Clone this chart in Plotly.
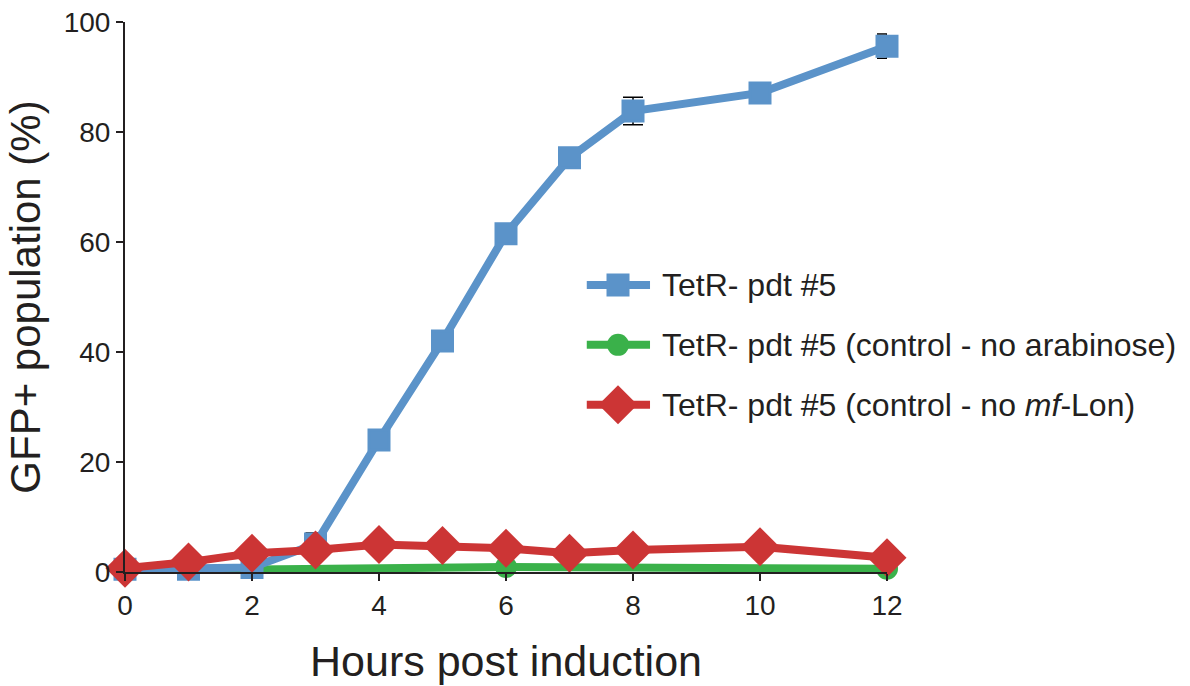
import plotly.graph_objects as go

hours = [0, 1, 2, 3, 4, 5, 6, 7, 8, 10, 12]
blue_vals = [0.5, 0.5, 0.8, 5.1, 24.0, 42.0, 61.5, 75.3, 83.8, 87.1, 95.6]
blue_err = [0.3, 2.0, 0.8, 2.0, 1.0, 0.8, 1.8, 0.8, 2.5, 0.6, 2.2]

green_hours = [0, 6, 12]
green_vals = [0.2, 0.9, 0.6]

red_vals = [0.7, 1.8, 3.4, 4.0, 5.0, 4.8, 4.3, 3.4, 4.0, 4.6, 2.6]

x_ticks = [0, 2, 4, 6, 8, 10, 12]
y_ticks = [0, 20, 40, 60, 80, 100]

names = ["TetR- pdt #5",
         "TetR- pdt #5 (control - no arabinose)",
         "TetR- pdt #5 (control - no <i>mf</i>-Lon)"]

BLUE = "#5B93C9"
GREEN = "#3AB14A"
RED = "#CC3535"
INK = "#231F20"
FONT = "Liberation Sans, Arial, sans-serif"

fig = go.Figure()

fig.add_trace(go.Scatter(
    x=green_hours, y=green_vals, name=names[1], showlegend=False,
    mode="lines+markers", line=dict(color=GREEN, width=8),
    marker=dict(symbol="circle", size=22, color=GREEN),
    cliponaxis=False))

fig.add_trace(go.Scatter(
    x=hours, y=blue_vals, name=names[0], showlegend=False,
    mode="lines+markers", line=dict(color=BLUE, width=8),
    marker=dict(symbol="square", size=20, color=BLUE,
                line=dict(color=BLUE, width=3)),
    error_y=dict(type="data", array=blue_err, visible=True,
                 color="black", thickness=1.5, width=10),
    cliponaxis=False))

fig.add_trace(go.Scatter(
    x=hours, y=red_vals, name=names[2], showlegend=False,
    mode="lines+markers", line=dict(color=RED, width=8),
    marker=dict(symbol="diamond", size=30, color=RED),
    cliponaxis=False))

# custom legend (large sample markers) on an overlay axis in fractional coords
leg_y = [0.522, 0.413, 0.304]
leg_line_x = [0.606, 0.689]
leg_marker_x = 0.647
leg_text_x = 0.702
leg_styles = [
    (BLUE, dict(symbol="square", size=20, color=BLUE, line=dict(color=BLUE, width=3))),
    (GREEN, dict(symbol="circle", size=22, color=GREEN)),
    (RED, dict(symbol="diamond", size=30, color=RED)),
]
for (col, mk), yy, nm in zip(leg_styles, leg_y, names):
    fig.add_trace(go.Scatter(
        x=leg_line_x, y=[yy, yy], xaxis="x2", yaxis="y2", mode="lines",
        line=dict(color=col, width=8), showlegend=False, hoverinfo="skip"))
    fig.add_trace(go.Scatter(
        x=[leg_marker_x], y=[yy], xaxis="x2", yaxis="y2", mode="markers",
        marker=mk, showlegend=False, hoverinfo="skip"))
    fig.add_annotation(x=leg_text_x, y=yy, xref="x2", yref="y2", text=nm,
                       showarrow=False, xanchor="left", yanchor="middle",
                       font=dict(size=32, family=FONT, color=INK))

fig.update_layout(
    width=1190, height=686,
    paper_bgcolor="white", plot_bgcolor="white",
    margin=dict(l=125, r=303, t=22, b=114),
    font=dict(family=FONT, color=INK),
    showlegend=False,
    xaxis=dict(
        range=[0, 12], tickvals=x_ticks, ticktext=[str(v) for v in x_ticks],
        showgrid=False, zeroline=False, showline=True, linecolor=INK, linewidth=2,
        ticks="outside", ticklen=7, tickwidth=2, tickcolor=INK, automargin=False,
        tickfont=dict(size=28, family=FONT, color=INK),
        title=dict(text="Hours post induction",
                   font=dict(size=43, family=FONT, color=INK), standoff=26),
    ),
    yaxis=dict(
        range=[0, 100], tickvals=y_ticks, ticktext=[str(v) for v in y_ticks],
        showgrid=False, zeroline=False, showline=True, linecolor=INK, linewidth=2,
        ticks="outside", ticklen=7, tickwidth=2, tickcolor=INK, automargin=False,
        tickfont=dict(size=28, family=FONT, color=INK),
        title=dict(text="GFP+ population (%)",
                   font=dict(size=42, family=FONT, color=INK), standoff=10),
    ),
    xaxis2=dict(overlaying="x", range=[0, 1], visible=False, fixedrange=True),
    yaxis2=dict(overlaying="y", range=[0, 1], visible=False, fixedrange=True),
)

fig.write_html("out.html")
